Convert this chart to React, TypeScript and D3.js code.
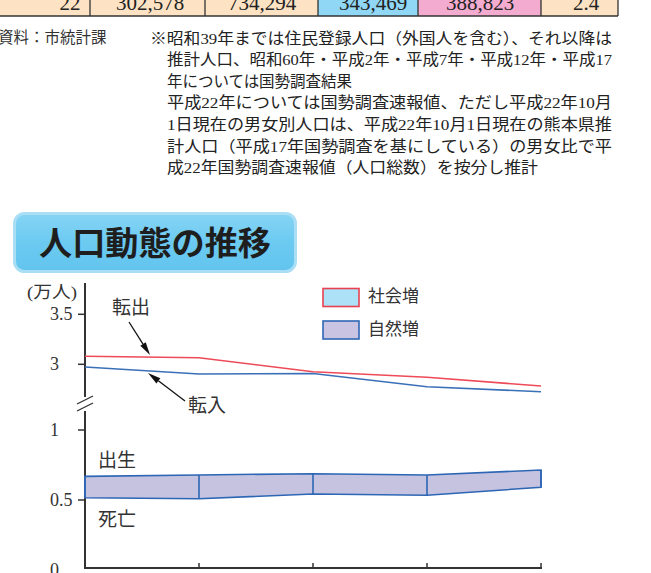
import React from "react";
import * as d3 from "d3";

// ---- data ----
const periodIndex = [0, 1, 2, 3, 4]; // five periods along the x axis (labels cut off in the reference)
const outMigration = [3.08, 3.066, 2.925, 2.87, 2.783]; // 転出 (万人)
const inMigration = [2.973, 2.903, 2.908, 2.776, 2.726]; // 転入 (万人)
const births = [0.669, 0.679, 0.688, 0.679, 0.714]; // 出生 (万人)
const deaths = [0.516, 0.509, 0.543, 0.534, 0.591]; // 死亡 (万人)
const upperTicks = [3, 3.5];
const lowerTicks = [0, 0.5, 1];

const tableValues = ["22", "302,578", "734,294", "343,469", "388,823", "2.4"];
const tableFills = ["#fde3c3", "#fde3c3", "#fde3c3", "#8fd7f4", "#f3abd0", "#fde3c3"];
const tableEdges = [-40, 90, 205, 318, 418, 541, 618];
const tableTextX = [70, 150, 262, 373, 480, 586];

const noteLines = [
  "※昭和39年までは住民登録人口（外国人を含む）、それ以降は",
  "推計人口、昭和60年・平成2年・平成7年・平成12年・平成17",
  "年については国勢調査結果",
  "平成22年については国勢調査速報値、ただし平成22年10月",
  "1日現在の男女別人口は、平成22年10月1日現在の熊本県推",
  "計人口（平成17年国勢調査を基にしている）の男女比で平",
  "成22年国勢調査速報値（人口総数）を按分し推計",
];
const noteRight = [612, 612, 352, 612, 612, 612, 538];

const legendItems = [
  { label: "社会増", fill: "#ade1f7", stroke: "#e8414f" },
  { label: "自然増", fill: "#c8c4e2", stroke: "#2e67b5" },
];

const SERIF = "'Liberation Serif', 'Noto Sans CJK JP', serif";
const CJK = "'Noto Sans CJK JP', sans-serif";

function Arrow({ x1, y1, x2, y2 }: { x1: number; y1: number; x2: number; y2: number }) {
  const dx = x2 - x1, dy = y2 - y1;
  const len = Math.hypot(dx, dy);
  const ux = dx / len, uy = dy / len;
  const hl = 13, hw = 3.2;
  const bx = x2 - ux * hl, by = y2 - uy * hl;
  const pts = [
    [x2, y2],
    [bx - uy * hw, by + ux * hw],
    [bx + uy * hw, by - ux * hw],
  ];
  return (
    <g>
      <line x1={x1} y1={y1} x2={bx} y2={by} stroke="#111" strokeWidth={1.3} />
      <polygon points={pts.map((p) => p.join(",")).join(" ")} fill="#111" />
    </g>
  );
}

export default function App() {
  const x = d3.scaleLinear().domain([0, 4]).range([85, 541]);
  const yU = d3.scaleLinear().domain([3, 3.5]).range([364.3, 314.3]);
  const yL = d3.scaleLinear().domain([0, 1]).range([570, 430]);

  const lineU = d3
    .line<number>()
    .x((_, i) => x(periodIndex[i]))
    .y((d) => yU(d));
  const band = d3
    .area<number>()
    .x((i) => x(i))
    .y0((i) => yL(deaths[i]))
    .y1((i) => yL(births[i]));

  const axisX = x(0);
  const axisBottom = 568;

  return (
    <svg
      width={651}
      height={573}
      style={{ position: "absolute", left: 0, top: 0, background: "#fff" }}
    >
      <defs>
        <linearGradient id="badge" x1="0" y1="0" x2="0" y2="1">
          <stop offset="0" stopColor="#86d4f4" />
          <stop offset="0.5" stopColor="#6ccaf1" />
          <stop offset="1" stopColor="#62c4ee" />
        </linearGradient>
      </defs>

      {/* table row (cut off at the top, as in the reference) */}
      {tableValues.map((v, i) => (
        <g key={i}>
          <rect
            x={tableEdges[i]}
            y={-20}
            width={tableEdges[i + 1] - tableEdges[i]}
            height={36}
            fill={tableFills[i]}
          />
          <text
            x={tableTextX[i]}
            y={10}
            textAnchor="middle"
            fontFamily={SERIF}
            fontSize={21}
            fill="#222"
          >
            {v}
          </text>
        </g>
      ))}
      {tableEdges.slice(1).map((e, i) => (
        <line key={i} x1={e} x2={e} y1={-5} y2={16} stroke="#333" strokeWidth={1.3} />
      ))}
      <line x1={0} x2={618} y1={16} y2={16} stroke="#333" strokeWidth={1.3} />

      {/* notes */}
      <text x={-2} y={43} fontFamily={CJK} fontSize={15.5} fill="#333">
        資料：市統計課
      </text>
      {noteLines.map((t, i) => {
        const x0 = i === 0 ? 150 : 167;
        return (
          <text
            key={i}
            x={x0}
            y={43.5 + i * 21.6}
            fontFamily={SERIF}
            fontSize={15.5}
            fill="#222"
            textLength={noteRight[i] - x0}
            lengthAdjust="spacingAndGlyphs"
          >
            {t}
          </text>
        );
      })}

      {/* title badge */}
      <rect x={14.5} y={213.5} width={281} height={58} rx={10} fill="url(#badge)" stroke="#a9def5" strokeWidth={3} />
      <text
        x={155}
        y={255}
        textAnchor="middle"
        fontFamily={CJK}
        fontWeight={700}
        fontSize={33}
        fill="#1e1e1e"
        textLength={232}
        lengthAdjust="spacingAndGlyphs"
      >
        人口動態の推移
      </text>

      {/* unit */}
      <text x={27} y={298} fontFamily={SERIF} fontSize={17} fill="#333" textLength={50} lengthAdjust="spacingAndGlyphs">
        (万人)
      </text>

      {/* y axis with break */}
      <line x1={axisX} x2={axisX} y1={283} y2={397} stroke="#333" strokeWidth={2} />
      <line x1={axisX} x2={axisX} y1={411} y2={axisBottom + 1} stroke="#333" strokeWidth={2} />
      <line x1={77} y1={404} x2={93} y2={396} stroke="#333" strokeWidth={1.3} />
      <line x1={77} y1={411} x2={93} y2={403} stroke="#333" strokeWidth={1.3} />

      {upperTicks.map((t) => (
        <g key={"u" + t}>
          <line x1={78} x2={axisX} y1={yU(t)} y2={yU(t)} stroke="#333" strokeWidth={1.5} />
          <text x={50} y={yU(t) + 6} fontFamily={SERIF} fontSize={18} fill="#333">
            {t}
          </text>
        </g>
      ))}
      {lowerTicks.map((t) => (
        <g key={"l" + t}>
          {t > 0 && <line x1={78} x2={axisX} y1={yL(t)} y2={yL(t)} stroke="#333" strokeWidth={1.5} />}
          <text x={50} y={yL(t) + 6} fontFamily={SERIF} fontSize={18} fill="#333">
            {t}
          </text>
        </g>
      ))}

      {/* x axis */}
      <line x1={axisX - 1} x2={x(4) + 1} y1={axisBottom} y2={axisBottom} stroke="#333" strokeWidth={2} />
      {periodIndex.slice(1).map((p) => (
        <line key={p} x1={x(p)} x2={x(p)} y1={axisBottom - 5} y2={axisBottom} stroke="#333" strokeWidth={1.5} />
      ))}

      {/* natural change band */}
      <path d={band(periodIndex) || ""} fill="#c6c3e1" stroke="#2d66b4" strokeWidth={1.6} />
      {periodIndex.map((p) => (
        <line
          key={p}
          x1={x(p)}
          x2={x(p)}
          y1={yL(births[p])}
          y2={yL(deaths[p])}
          stroke="#2d66b4"
          strokeWidth={1.6}
        />
      ))}

      {/* social change lines */}
      <path d={lineU(outMigration) || ""} fill="none" stroke="#ee4a58" strokeWidth={1.6} />
      <path d={lineU(inMigration) || ""} fill="none" stroke="#3a70b8" strokeWidth={1.6} />

      {/* annotations */}
      <text x={112} y={314} fontFamily={CJK} fontSize={19} fill="#333">転出</text>
      <Arrow x1={129} y1={322} x2={150} y2={355} />
      <text x={188} y={412} fontFamily={CJK} fontSize={19} fill="#333">転入</text>
      <Arrow x1={185} y1={401} x2={148} y2={373} />
      <text x={98} y={467} fontFamily={CJK} fontSize={19} fill="#333">出生</text>
      <text x={98} y={526} fontFamily={CJK} fontSize={19} fill="#333">死亡</text>

      {/* legend */}
      {legendItems.map((it, i) => (
        <g key={it.label}>
          <rect x={323} y={288.5 + i * 32.5} width={36} height={18} fill={it.fill} stroke={it.stroke} strokeWidth={1.6} />
          <text x={368} y={302 + i * 32.5} fontFamily={CJK} fontSize={17} fill="#333">
            {it.label}
          </text>
        </g>
      ))}
    </svg>
  );
}
